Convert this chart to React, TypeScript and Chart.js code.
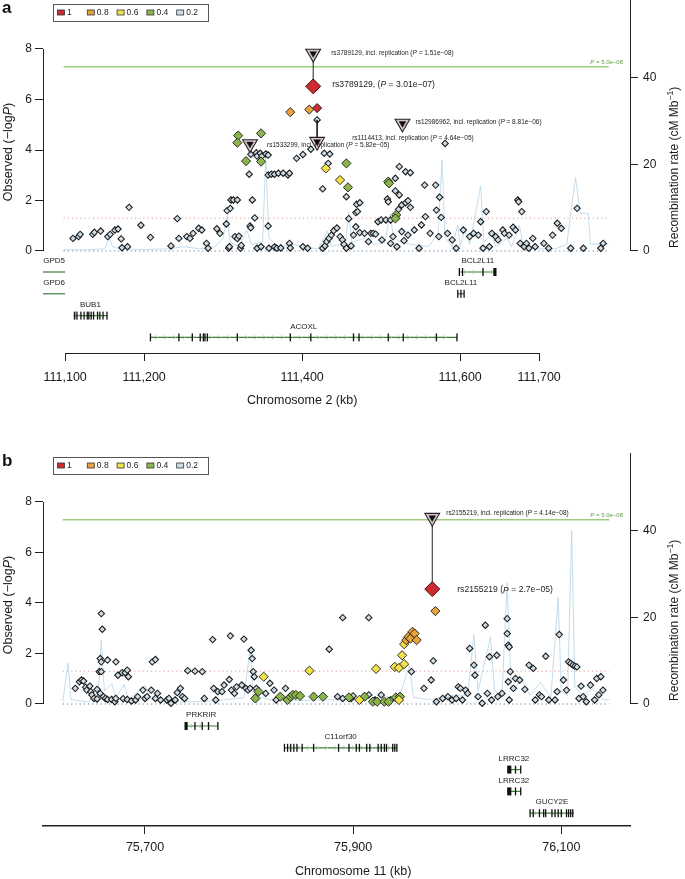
import React, { useEffect, useRef } from "react";
import { Chart, registerables } from "chart.js";

Chart.register(...registerables);

const FONT = "'Liberation Sans', Arial, Helvetica, sans-serif";
Chart.defaults.font.family = FONT;

// ---------- shared ----------
const LD_BINS = [1, 0.8, 0.6, 0.4, 0.2];
const LD_LABELS = ["1", "0.8", "0.6", "0.4", "0.2"];
const LD_COLORS = ["#cc2b2f", "#e9a33c", "#f1e24c", "#8cb44d", "#cddde8"];
const LOGP_TICKS = [0, 2, 4, 6, 8];
const RECOMB_TICKS = [0, 20, 40];
const GWS_LOGP = 7.3; // P = 5.0e-08
const GWS_TEXT = " = 5.0e\u221208";
const SUGGEST_LOGP = 1.3;

// layout (pixels)
const Y_ZERO_PX = 251;
const Y_EIGHT_PX = 49;
const R40_PX = 77.7;

// ---------- panel a : chromosome 2 ----------
const A_X_RANGE = [111072, 111815];
const A_X_TICKS = [111100, 111200, 111400, 111600, 111700];
const A_REGION = [111098, 111788];

const A_POS_R2_02 = [
  111110, 111117, 111119, 111135, 111137, 111145, 111154, 111157, 111163, 111167,
  111171, 111172, 111179, 111181, 111196, 111208, 111234, 111242, 111244, 111254,
  111258, 111262, 111269, 111273, 111279, 111281, 111292, 111296, 111304, 111305,
  111307, 111308, 111309, 111310, 111313, 111315, 111318, 111318, 111320, 111322,
  111323, 111333, 111334, 111335, 111335, 111337, 111340, 111342, 111343, 111343,
  111347, 111348, 111349, 111354, 111357, 111357, 111357, 111358, 111361, 111365,
  111365, 111368, 111370, 111373, 111376, 111382, 111384, 111384, 111385, 111393,
  111401, 111401, 111407, 111411, 111419, 111426, 111426, 111428, 111429, 111431,
  111433, 111434, 111435, 111437, 111440, 111444, 111448, 111451, 111453, 111456,
  111456, 111459, 111462, 111465, 111468, 111468, 111469, 111470, 111473, 111473,
  111479, 111484, 111487, 111490, 111493, 111496, 111500, 111501, 111506, 111508,
  111509, 111512, 111512, 111515, 111518, 111518, 111520, 111522, 111523, 111523,
  111526, 111526, 111529, 111531, 111531, 111534, 111534, 111537, 111537, 111542,
  111548, 111551, 111555, 111556, 111562, 111569, 111570, 111573, 111574, 111576,
  111581, 111584, 111590, 111595, 111604, 111612, 111617, 111623, 111626, 111629,
  111633, 111637, 111640, 111645, 111648, 111654, 111656, 111662, 111667, 111670,
  111673, 111674, 111676, 111678, 111681, 111684, 111687, 111692, 111695, 111706,
  111712, 111717, 111723, 111728, 111740, 111748, 111756, 111778, 111781,
];
const A_LOGP_R2_02 = [
  0.5, 0.57, 0.66, 0.66, 0.74, 0.79, 0.57, 0.66, 0.83, 0.87,
  0.48, 0.13, 0.17, 1.73, 1.02, 0.54, 0.2, 1.28, 0.5, 0.57,
  0.5, 0.7, 0.9, 0.83, 0.3, 0.11, 0.88, 0.7, 1.07, 1.6,
  0.11, 0.17, 1.69, 2.02, 2.02, 0.57, 2.02, 0.49, 0.59, 0.11,
  0.22, 3.04, 0.99, 3.83, 0.92, 2.02, 1.31, 3.89, 3.76, 0.11,
  3.87, 0.17, 3.76, 3.84, 3.8, 3.01, 0.99, 0.11, 3.04, 3.04,
  0.16, 0.11, 3.08, 0.12, 3.08, 3.01, 3.08, 0.3, 0.12, 3.67,
  3.82, 0.17, 0.11, 4.03, 5.19, 2.46, 0.11, 3.87, 0.2, 0.37,
  3.47, 0.5, 3.84, 0.63, 0.81, 0.91, 0.57, 0.44, 0.26, 2.15,
  0.11, 1.28, 0.2, 0.63, 1.52, 0.96, 1.85, 1.56, 1.91, 0.73,
  0.7, 0.37, 0.7, 0.7, 0.67, 1.16, 1.23, 0.44, 1.23, 2.06,
  1.95, 1.23, 0.3, 0.57, 2.88, 2.38, 0.17, 1.65, 2.22, 3.34,
  1.82, 0.77, 0.41, 1.91, 3.14, 1.99, 0.63, 1.73, 3.1, 0.83,
  0.11, 1.03, 2.61, 1.36, 0.7, 2.61, 1.62, 0.57, 2.13, 1.33,
  4.26, 0.7, 0.44, 0.11, 0.83, 0.57, 0.7, 0.63, 1.16, 0.11,
  1.56, 0.17, 0.7, 0.57, 0.44, 0.83, 0.7, 0.63, 0.94, 0.83,
  2.02, 1.95, 0.3, 1.56, 0.17, 0.3, 0.11, 0.5, 0.17, 0.3,
  0.11, 0.63, 1.1, 0.9, 0.11, 1.69, 0.11, 0.11, 0.3,
];
const A_POS_R2_04 = [111319, 111318, 111329, 111348, 111348, 111456, 111458, 111509, 111510, 111519, 111518];
const A_LOGP_R2_04 = [4.57, 4.29, 3.56, 4.66, 3.54, 3.47, 2.52, 2.75, 2.68, 1.43, 1.29];
const A_POS_R2_06 = [111430, 111448];
const A_LOGP_R2_06 = [3.27, 2.81];
const A_POS_R2_08 = [111385, 111409];
const A_LOGP_R2_08 = [5.5, 5.6];
const A_POS_R2_10 = [111419];
const A_LOGP_R2_10 = [5.66];

const A_REC_POS = [
  111098, 111130, 111150, 111156, 111160, 111170, 111200, 111230, 111250, 111270,
  111290, 111300, 111305, 111309, 111320, 111330, 111336, 111350, 111354, 111358,
  111370, 111390, 111400, 111420, 111432, 111437, 111455, 111459, 111463, 111480,
  111490, 111505, 111511, 111516, 111525, 111540, 111560, 111572, 111577, 111581,
  111590, 111597, 111600, 111606, 111612, 111626, 111630, 111640, 111645, 111660,
  111665, 111675, 111680, 111700, 111720, 111735, 111746, 111752, 111762, 111765,
  111788,
];
const A_REC_RATE = [
  0.3, 0.3, 0.5, 3.0, 1.0, 0.5, 0.3, 0.5, 1.0, 0.5,
  1.0, 3.0, 8.0, 2.0, 1.0, 4.8, 1.5, 2.0, 22.0, 3.0,
  1.0, 1.5, 1.0, 0.5, 4.6, 1.0, 2.0, 9.0, 2.0, 3.0,
  1.5, 2.0, 8.5, 3.0, 2.0, 1.5, 1.0, 4.0, 21.0, 3.0,
  1.0, 6.0, 1.0, 5.0, 1.5, 15.0, 2.0, 4.0, 1.0, 3.0,
  1.0, 6.0, 1.0, 0.5, 0.5, 1.5, 17.0, 8.7, 8.7, 1.6,
  1.6,
];

const A_LEAD_NAME = "rs3789129";
const A_LEAD_POS = 111414;
const A_LEAD_LOGP = 6.52;
const A_LEAD_P = "3.01e\u221207";

const A_HIT_NAMES = ["rs3789129", "rs1114413", "rs1533299", "rs12986962"];
const A_HIT_POS = [111414, 111419, 111334, 111527];
const A_HIT_DISC = [6.52, 5.19, null, null];
const A_HIT_REP = [7.82, 4.33, 4.24, 5.05];
const A_HIT_REP_P = ["1.51e\u221208", "4.64e\u221205", "5.82e\u221205", "8.81e\u221206"];

const A_GENE_NAMES = ["GPD5", "GPD6", "BUB1", "ACOXL", "BCL2L11", "BCL2L11"];
const A_GENE_START = [111072, 111072, 111111, 111208, 111599, 111597];
const A_GENE_END = [111100, 111100, 111153, 111596, 111646, 111605];
const A_GENE_ROW = [0, 1, 2, 3, 0, 1];
const A_GENE_STRAND = [0, 0, -1, 1, 1, 1];
const A_GENE_EXONS = [
  [],
  [],
  [[111111, 111113], [111115, 111116], [111120, 111120], [111124, 111124], [111128, 111128], [111130, 111130],
   [111133, 111133], [111136, 111136], [111141, 111141], [111144, 111144], [111148, 111148], [111153, 111153]],
  [[111208, 111208], [111244, 111244], [111261, 111261], [111271, 111271], [111275, 111275], [111277, 111277],
   [111280, 111280], [111318, 111318], [111385, 111385], [111411, 111411], [111465, 111465], [111472, 111472],
   [111509, 111509], [111528, 111528], [111570, 111570], [111596, 111596]],
  [[111599, 111599], [111603, 111603], [111629, 111629], [111642, 111646]],
  [[111597, 111597], [111601, 111601], [111605, 111605]],
];

// ---------- panel b : chromosome 11 ----------
const B_X_RANGE = [75602, 76166];
const B_X_TICKS = [75700, 75900, 76100];
const B_REGION = [75621, 76146];

const B_POS_R2_02 = [
  75633, 75637, 75639, 75641, 75643, 75644, 75647, 75648, 75649, 75651,
  75654, 75657, 75658, 75659, 75657, 75658, 75664, 75656, 75658, 75654,
  75660, 75662, 75664, 75668, 75671, 75672, 75672, 75674, 75678, 75681,
  75683, 75684, 75679, 75683, 75687, 75691, 75693, 75698, 75700, 75702,
  75706, 75707, 75710, 75710, 75712, 75715, 75721, 75723, 75725, 75729,
  75731, 75734, 75736, 75738, 75741, 75748, 75755, 75757, 75765, 75766,
  75768, 75770, 75774, 75776, 75782, 75781, 75783, 75786, 75788, 75793,
  75795, 75797, 75799, 75801, 75802, 75803, 75804, 75805, 75807, 75816,
  75820, 75824, 75826, 75835, 75877, 75890, 75915, 75885, 75890, 75898,
  75900, 75915, 75921, 75927, 75936, 75956, 75968, 75975, 75977, 75980,
  75986, 75991, 75995, 75999, 76001, 76003, 76005, 76008, 76010, 76012,
  76016, 76017, 76020, 76024, 76027, 76029, 76031, 76033, 76038, 76039,
  76043, 76048, 76048, 76049, 76050, 76051, 76049, 76050, 76054, 76056,
  76060, 76065, 76069, 76073, 76075, 76079, 76081, 76085, 76088, 76094,
  76096, 76098, 76102, 76105, 76107, 76109, 76111, 76113, 76115, 76117,
  76119, 76121, 76124, 76128, 76132, 76134, 76136, 76138, 76140,
];
const B_LOGP_R2_02 = [
  0.62, 0.88, 0.95, 0.91, 0.66, 0.55, 0.71, 0.49, 0.36, 0.22,
  0.2, 0.42, 3.58, 2.96, 1.8, 1.67, 1.74, 1.28, 1.28, 0.58,
  0.29, 0.22, 0.18, 0.18, 0.09, 0.22, 1.67, 1.14, 1.24, 1.24,
  1.34, 1.08, 0.21, 0.18, 0.12, 0.16, 0.29, 0.55, 0.22, 0.29,
  0.55, 1.67, 1.76, 0.22, 0.42, 0.16, 0.16, 0.22, 0.03, 0.16,
  0.45, 0.62, 0.29, 0.22, 1.32, 1.3, 1.28, 0.22, 2.55, 0.62,
  0.16, 0.49, 0.49, 0.75, 2.7, 0.97, 0.55, 0.42, 0.68, 0.75,
  2.57, 0.62, 0.55, 0.62, 2.13, 1.8, 1.28, 1.08, 0.62, 0.42,
  0.82, 0.55, 0.16, 0.62, 2.17, 3.42, 3.42, 0.29, 0.22, 0.22,
  0.32, 0.36, 0.16, 0.36, 0.16, 1.28, 0.62, 0.95, 1.71, 0.09,
  0.22, 0.29, 0.16, 0.22, 0.68, 0.62, 0.16, 0.55, 0.42, 2.2,
  1.54, 1.14, 0.29, 0.03, 3.12, 0.42, 1.87, 0.16, 1.93, 0.29,
  0.42, 3.38, 2.79, 2.33, 2.26, 1.28, 0.88, 0.16, 0.62, 1.01,
  0.95, 0.58, 1.54, 1.41, 0.16, 0.36, 0.29, 1.89, 0.16, 0.16,
  0.49, 2.75, 0.95, 0.55, 1.67, 1.61, 1.54, 1.5, 1.47, 0.22,
  0.71, 0.29, 0.09, 0.75, 0.16, 1.01, 0.36, 1.08, 0.55,
];
const B_POS_R2_04 = [
  75806, 75809, 75830, 75837, 75840, 75842, 75845, 75849, 75862, 75871,
  75896, 75911, 75919, 75923, 75930, 75934, 75941, 75945,
];
const B_LOGP_R2_04 = [
  0.22, 0.49, 0.29, 0.16, 0.29, 0.36, 0.36, 0.32, 0.29, 0.29,
  0.26, 0.29, 0.09, 0.09, 0.09, 0.09, 0.26, 0.29,
];
const B_POS_R2_06 = [75814, 75858, 75922, 75906, 75944, 75940, 75944, 75949, 75947, 75949];
const B_LOGP_R2_06 = [1.08, 1.32, 1.39, 0.16, 0.16, 1.47, 1.43, 1.58, 1.93, 2.37];
const B_POS_R2_08 = [75951, 75953, 75955, 75957, 75959, 75961, 75979];
const B_LOGP_R2_08 = [2.53, 2.66, 2.59, 2.86, 2.79, 2.53, 3.68];
const B_POS_R2_10: number[] = [];
const B_LOGP_R2_10: number[] = [];

const B_REC_POS = [
  75621, 75626, 75629, 75645, 75655, 75658, 75661, 75668, 75672, 75680,
  75684, 75700, 75706, 75720, 75745, 75770, 75795, 75801, 75804, 75820,
  75850, 75880, 75910, 75945, 75954, 75958, 75975, 75995, 76010, 76016,
  76020, 76032, 76036, 76043, 76048, 76052, 76062, 76070, 76080, 76090,
  76097, 76100, 76106, 76110, 76113, 76120, 76130, 76140, 76146,
];
const B_REC_RATE = [
  0.5, 9.4, 1.0, 0.5, 2.0, 14.8, 3.0, 4.7, 1.5, 4.5,
  1.0, 4.3, 1.0, 0.5, 0.5, 0.8, 1.5, 13.0, 2.0, 1.0,
  0.8, 1.0, 1.0, 2.0, 9.0, 1.5, 1.0, 2.0, 2.0, 16.0,
  3.0, 15.5, 3.0, 2.0, 28.0, 3.0, 5.5, 2.0, 5.0, 1.5,
  24.5, 3.0, 2.0, 40.0, 4.0, 2.0, 3.5, 1.0, 1.0,
];

const B_LEAD_NAME = "rs2155219";
const B_LEAD_POS = 75976;
const B_LEAD_LOGP = 4.55;
const B_LEAD_P = "2.7e\u221205";

const B_HIT_NAMES = ["rs2155219"];
const B_HIT_POS = [75976];
const B_HIT_DISC = [4.55];
const B_HIT_REP = [7.38];
const B_HIT_REP_P = ["4.14e\u221208"];

const B_GENE_NAMES = ["PRKRIR", "C11orf30", "LRRC32", "LRRC32", "GUCY2E"];
const B_GENE_START = [75738, 75834, 76048, 76048, 76070];
const B_GENE_END = [75770, 75942, 76061, 76061, 76112];
const B_GENE_ROW = [0, 1, 2, 3, 4];
const B_GENE_STRAND = [-1, 1, -1, -1, 1];
const B_GENE_EXONS = [
  [[75738, 75741], [75748, 75748], [75755, 75755], [75761, 75761], [75770, 75770]],
  [[75834, 75834], [75837, 75837], [75840, 75840], [75843, 75843], [75846, 75846], [75851, 75851],
   [75862, 75862], [75886, 75886], [75896, 75896], [75903, 75903], [75906, 75906], [75913, 75913],
   [75916, 75916], [75924, 75924], [75927, 75927], [75930, 75930], [75932, 75932], [75938, 75938],
   [75940, 75940], [75942, 75942]],
  [[76048, 76052], [76056, 76056], [76061, 76061]],
  [[76048, 76052], [76056, 76056], [76061, 76061]],
  [[76070, 76070], [76073, 76073], [76079, 76080], [76083, 76083], [76085, 76085], [76091, 76091],
   [76094, 76094], [76097, 76097], [76100, 76100], [76105, 76105], [76107, 76107], [76109, 76109],
   [76111, 76112]],
];

// ---------- specs ----------
const SPEC_A = {
  letter: "a", height: 453, axisY: 353, xTickPad: 9, xTitleY: 401,
  xTitle: "Chromosome 2 (kb)", fullAxisLine: false, axisLineWidth: 1,
  xRange: A_X_RANGE, xTicks: A_X_TICKS, region: A_REGION,
  snps: [
    [A_POS_R2_10, A_LOGP_R2_10], [A_POS_R2_08, A_LOGP_R2_08], [A_POS_R2_06, A_LOGP_R2_06],
    [A_POS_R2_04, A_LOGP_R2_04], [A_POS_R2_02, A_LOGP_R2_02],
  ],
  recPos: A_REC_POS, recRate: A_REC_RATE,
  lead: { name: A_LEAD_NAME, pos: A_LEAD_POS, logp: A_LEAD_LOGP, p: A_LEAD_P, sep: ", (", dx: 19, dy: -2 },
  hits: { names: A_HIT_NAMES, pos: A_HIT_POS, disc: A_HIT_DISC, rep: A_HIT_REP, repP: A_HIT_REP_P,
    dx: [18, 35, 17, 13], dy: [-0.5, -3, 1.5, -1] },
  genes: { names: A_GENE_NAMES, start: A_GENE_START, end: A_GENE_END, rows: A_GENE_ROW,
    strand: A_GENE_STRAND, exons: A_GENE_EXONS },
  rowY0: 272, rowStep: 21.8,
};

const SPEC_B = {
  letter: "b", height: 426, axisY: 373, xTickPad: 6, xTitleY: 419,
  xTitle: "Chromosome 11 (kb)", fullAxisLine: true, axisLineWidth: 1.6,
  xRange: B_X_RANGE, xTicks: B_X_TICKS, region: B_REGION,
  snps: [
    [B_POS_R2_10, B_LOGP_R2_10], [B_POS_R2_08, B_LOGP_R2_08], [B_POS_R2_06, B_LOGP_R2_06],
    [B_POS_R2_04, B_LOGP_R2_04], [B_POS_R2_02, B_LOGP_R2_02],
  ],
  recPos: B_REC_POS, recRate: B_REC_RATE,
  lead: { name: B_LEAD_NAME, pos: B_LEAD_POS, logp: B_LEAD_LOGP, p: B_LEAD_P, sep: " (", dx: 25, dy: 1 },
  hits: { names: B_HIT_NAMES, pos: B_HIT_POS, disc: B_HIT_DISC, rep: B_HIT_REP, repP: B_HIT_REP_P,
    dx: [14], dy: [-4] },
  genes: { names: B_GENE_NAMES, start: B_GENE_START, end: B_GENE_END, rows: B_GENE_ROW,
    strand: B_GENE_STRAND, exons: B_GENE_EXONS },
  rowY0: 273, rowStep: 21.8,
};

// ---------- drawing helpers ----------
type Part = { t: string; i?: boolean; sup?: boolean };

function drawParts(ctx: CanvasRenderingContext2D, parts: Part[], x: number, y: number, size: number,
  align: "left" | "center" | "right", color: string) {
  const fontOf = (p: Part) => `${p.i ? "italic " : ""}${p.sup ? size * 0.72 : size}px ${FONT}`;
  let total = 0;
  const widths = parts.map((p) => {
    ctx.font = fontOf(p);
    const w = ctx.measureText(p.t).width;
    total += w;
    return w;
  });
  let cx = align === "left" ? x : align === "center" ? x - total / 2 : x - total;
  ctx.fillStyle = color;
  ctx.textAlign = "left";
  ctx.textBaseline = "middle";
  parts.forEach((p, k) => {
    ctx.font = fontOf(p);
    ctx.fillText(p.t, cx, p.sup ? y - size * 0.38 : y);
    cx += widths[k];
  });
}

function line(ctx: CanvasRenderingContext2D, x1: number, y1: number, x2: number, y2: number) {
  ctx.beginPath();
  ctx.moveTo(x1, y1);
  ctx.lineTo(x2, y2);
  ctx.stroke();
}

function makeOverlay(spec: any) {
  return {
    id: "overlay" + spec.letter,
    afterDraw(chart: any) {
      const ctx: CanvasRenderingContext2D = chart.ctx;
      const xs = chart.scales.x, ys = chart.scales.y, yr = chart.scales.y2;
      const area = chart.chartArea;
      ctx.save();
      ctx.strokeStyle = "#222";
      ctx.lineWidth = 1;
      // left axis line (0..8)
      const lx = Math.round(area.left) + 0.5;
      line(ctx, lx, ys.getPixelForValue(LOGP_TICKS[LOGP_TICKS.length - 1]), lx, ys.getPixelForValue(0));
      // right axis line (top .. 0)
      const rx = Math.round(area.right) + 0.5;
      line(ctx, rx, 0, rx, yr.getPixelForValue(0));
      // bottom axis line from first to last tick (panel a style)
      if (!spec.fullAxisLine) {
        const by = Math.round(area.bottom) + 0.5;
        line(ctx, xs.getPixelForValue(spec.xTicks[0]), by, xs.getPixelForValue(spec.xTicks[spec.xTicks.length - 1]), by);
      }

      // axis titles
      ctx.save();
      ctx.translate(9, ys.getPixelForValue(4) + 2);
      ctx.rotate(-Math.PI / 2);
      drawParts(ctx, [{ t: "Observed (\u2212log" }, { t: "P", i: true }, { t: ")" }], 0, 0, 12.5, "center", "#1a1a1a");
      ctx.restore();
      ctx.save();
      ctx.translate(675, yr.getPixelForValue(20) + 3);
      ctx.rotate(-Math.PI / 2);
      drawParts(ctx, [{ t: "Recombination rate (cM Mb" }, { t: "\u22121", sup: true }, { t: ")" }], 0, 0, 12, "center", "#1a1a1a");
      ctx.restore();
      const tx = (xs.getPixelForValue(spec.xTicks[0]) + xs.getPixelForValue(spec.xTicks[spec.xTicks.length - 1])) / 2;
      drawParts(ctx, [{ t: spec.xTitle }], tx, spec.xTitleY, 12.5, "center", "#1a1a1a");

      // threshold label
      drawParts(ctx, [{ t: "P", i: true }, { t: GWS_TEXT }], 623, ys.getPixelForValue(GWS_LOGP) - 4.5, 6, "right", "#5f9a45");

      // hit labels
      const h = spec.hits;
      h.names.forEach((n: string, k: number) => {
        const x = xs.getPixelForValue(h.pos[k]) + h.dx[k];
        const y = ys.getPixelForValue(h.rep[k]) + h.dy[k];
        drawParts(ctx, [{ t: `${n}, incl. replication (` }, { t: "P", i: true }, { t: ` = ${h.repP[k]})` }], x, y, 6.5, "left", "#222");
      });
      const L = spec.lead;
      drawParts(ctx, [{ t: `${L.name}${L.sep}` }, { t: "P", i: true }, { t: ` = ${L.p})` }],
        xs.getPixelForValue(L.pos) + L.dx, ys.getPixelForValue(L.logp) + L.dy, 8.6, "left", "#222");

      // legend box
      ctx.strokeStyle = "#555";
      ctx.lineWidth = 1;
      ctx.strokeRect(53.5, 4.5, 155, 17);
      LD_LABELS.forEach((lab, k) => {
        const cx = 61 + 29.8 * k;
        ctx.fillStyle = LD_COLORS[k];
        ctx.fillRect(cx - 3.5, 10, 7, 5);
        ctx.strokeStyle = "#333";
        ctx.lineWidth = 0.8;
        ctx.strokeRect(cx - 3.5, 10, 7, 5);
        drawParts(ctx, [{ t: lab }], cx + 6, 12.8, 8.5, "left", "#222");
      });

      // panel letter
      ctx.font = `bold 17px ${FONT}`;
      ctx.fillStyle = "#111";
      ctx.textAlign = "left";
      ctx.textBaseline = "alphabetic";
      ctx.fillText(spec.letter, 2, 13);

      // gene track
      const g = spec.genes;
      g.names.forEach((name: string, k: number) => {
        const y = spec.rowY0 + spec.rowStep * g.rows[k];
        const x1 = xs.getPixelForValue(g.start[k]);
        const x2 = xs.getPixelForValue(g.end[k]);
        ctx.strokeStyle = "#3f7a3f";
        ctx.lineWidth = 1.2;
        line(ctx, x1, y, x2, y);
        if (g.strand[k] !== 0 && x2 - x1 > 16) {
          ctx.strokeStyle = "#a6d39a";
          ctx.lineWidth = 0.8;
          for (let cx = x1 + 6; cx < x2 - 4; cx += 9) {
            const d = g.strand[k] > 0 ? 1.5 : -1.5;
            ctx.beginPath();
            ctx.moveTo(cx - d, y - 2);
            ctx.lineTo(cx + d, y);
            ctx.lineTo(cx - d, y + 2);
            ctx.stroke();
          }
        }
        ctx.fillStyle = "#111";
        g.exons[k].forEach((ex: number[]) => {
          const a = xs.getPixelForValue(ex[0]);
          const b = xs.getPixelForValue(ex[1]);
          const w = Math.max(b - a, 1.3);
          ctx.fillRect(b - a < 1.3 ? a - 0.65 : a, y - 4, w, 8);
        });
        drawParts(ctx, [{ t: name }], (x1 + x2) / 2, y - 11, 8, "center", "#222");
      });
      ctx.restore();
    },
  };
}

function lineDs(data: any[], color: string, width: number, dash: number[] | undefined, order: number) {
  return {
    type: "scatter", data, showLine: true, pointRadius: 0, borderColor: color, borderWidth: width,
    borderDash: dash || [], fill: false, order, yAxisID: "y",
  };
}

function Panel({ spec }: { spec: any }) {
  const ref = useRef<HTMLCanvasElement>(null);
  useEffect(() => {
    const canvas = ref.current!;
    const ppu = (Y_ZERO_PX - Y_EIGHT_PX) / 8;
    const ppr = (Y_ZERO_PX - R40_PX) / 40;
    const [r0, r1] = spec.region;

    const datasets: any[] = [];
    datasets.push({ ...lineDs(spec.recPos.map((x: number, i: number) => ({ x, y: spec.recRate[i] })), "#bcd9e9", 0.9, undefined, 30), yAxisID: "y2" });
    datasets.push(lineDs([{ x: r0, y: GWS_LOGP }, { x: r1, y: GWS_LOGP }], "#9ccd7c", 1.4, undefined, 25));
    datasets.push(lineDs([{ x: r0, y: SUGGEST_LOGP }, { x: r1, y: SUGGEST_LOGP }], "#e39a98", 1, [1.2, 3], 26));
    datasets.push(lineDs([{ x: r0, y: 0 }, { x: r1, y: 0 }], "#5f86ad", 1, [1.2, 3], 27));

    LD_BINS.forEach((b, k) => {
      const [pos, lp] = spec.snps[k];
      datasets.push({
        type: "scatter",
        data: pos.map((x: number, i: number) => ({ x, y: lp[i] })),
        pointStyle: "rectRot",
        pointRadius: b === 0.2 ? 3.2 : 4.6,
        pointBackgroundColor: LD_COLORS[k],
        pointBorderColor: "#1a1a1a",
        pointBorderWidth: b === 0.2 ? 1.05 : 0.9,
        order: 10 + k,
        yAxisID: "y",
      });
    });

    const h = spec.hits;
    h.names.forEach((_: string, k: number) => {
      if (h.disc[k] != null) {
        datasets.push(lineDs([{ x: h.pos[k], y: h.disc[k] }, { x: h.pos[k], y: h.rep[k] }], "#222", 1, undefined, 6));
      }
    });
    datasets.push({
      type: "scatter",
      data: [{ x: spec.lead.pos, y: spec.lead.logp }],
      pointStyle: "rectRot", pointRadius: 7.5,
      pointBackgroundColor: LD_COLORS[0], pointBorderColor: "#4a0d0d", pointBorderWidth: 1,
      order: 4, yAxisID: "y",
    });
    const triData = h.pos.map((x: number, k: number) => ({ x, y: h.rep[k] }));
    datasets.push({
      type: "scatter", data: triData, pointStyle: "triangle", pointRotation: 180, pointRadius: 8.5,
      pointBackgroundColor: "#d9c3d1", pointBorderColor: "#222", pointBorderWidth: 1.1, order: 3, yAxisID: "y",
    });
    datasets.push({
      type: "scatter", data: triData, pointStyle: "triangle", pointRotation: 180, pointRadius: 3.8,
      pointBackgroundColor: "#111", pointBorderColor: "#111", pointBorderWidth: 0.5, order: 2, yAxisID: "y",
    });

    // initial limits assume the plot area starts at the canvas top; refined after layout
    const limits = (top: number, bottom: number) => {
      const yMin = -(bottom - Y_ZERO_PX) / ppu;
      const rMin = -(bottom - Y_ZERO_PX) / ppr;
      return {
        yMin, yMax: yMin + (bottom - top) / ppu,
        rMin, rMax: rMin + (bottom - top) / ppr,
      };
    };
    const lim0 = limits(0, spec.axisY);

    const chart: any = new Chart(canvas, {
      type: "scatter",
      data: { datasets },
      options: {
        responsive: false,
        animation: false,
        devicePixelRatio: 1,
        events: [],
        layout: { padding: 0 },
        plugins: { legend: { display: false }, tooltip: { enabled: false } },
        scales: {
          x: {
            type: "linear", position: "bottom", min: spec.xRange[0], max: spec.xRange[1],
            grid: { drawOnChartArea: false, drawTicks: true, tickLength: 8, color: "#222", lineWidth: 1 },
            border: { display: spec.fullAxisLine, color: "#222", width: spec.axisLineWidth },
            ticks: {
              autoSkip: false, maxRotation: 0, padding: spec.xTickPad, color: "#1a1a1a",
              font: { size: 12.5, family: FONT },
              callback: (v: any) => Number(v).toLocaleString("en-US"),
            },
            afterBuildTicks: (s: any) => { s.ticks = spec.xTicks.map((v: number) => ({ value: v })); },
            afterFit: (s: any) => { s.height = spec.height - spec.axisY; s.paddingLeft = 0; s.paddingRight = 0; },
          },
          y: {
            type: "linear", position: "left", min: lim0.yMin, max: lim0.yMax,
            grid: { drawOnChartArea: false, drawTicks: true, tickLength: 8, color: "#222", lineWidth: 1 },
            border: { display: false },
            ticks: { padding: 3, color: "#1a1a1a", font: { size: 12, family: FONT } },
            afterBuildTicks: (s: any) => { s.ticks = LOGP_TICKS.map((v) => ({ value: v })); },
            afterFit: (s: any) => { s.width = 43; s.paddingTop = 0; s.paddingBottom = 0; },
          },
          y2: {
            type: "linear", position: "right", min: lim0.rMin, max: lim0.rMax,
            grid: { drawOnChartArea: false, drawTicks: true, tickLength: 8, color: "#222", lineWidth: 1 },
            border: { display: false },
            ticks: { padding: 5, color: "#1a1a1a", font: { size: 12, family: FONT } },
            afterBuildTicks: (s: any) => { s.ticks = RECOMB_TICKS.map((v) => ({ value: v })); },
            afterFit: (s: any) => { s.width = 55; s.paddingTop = 0; s.paddingBottom = 0; },
          },
        },
      } as any,
      plugins: [makeOverlay(spec)],
    } as any);

    // refine scale limits so that 0 and 8 fall on the intended rows of the plot
    const a = chart.chartArea;
    const lim = limits(a.top, a.bottom);
    chart.options.scales.y.min = lim.yMin;
    chart.options.scales.y.max = lim.yMax;
    chart.options.scales.y2.min = lim.rMin;
    chart.options.scales.y2.max = lim.rMax;
    chart.update();

    return () => chart.destroy();
  }, [spec]);
  return <canvas ref={ref} width={685} height={spec.height} style={{ display: "block" }} />;
}

export default function App() {
  return (
    <div style={{ position: "absolute", left: 0, top: 0, width: 685, height: 879, background: "#fff" }}>
      <Panel spec={SPEC_A} />
      <Panel spec={SPEC_B} />
    </div>
  );
}
